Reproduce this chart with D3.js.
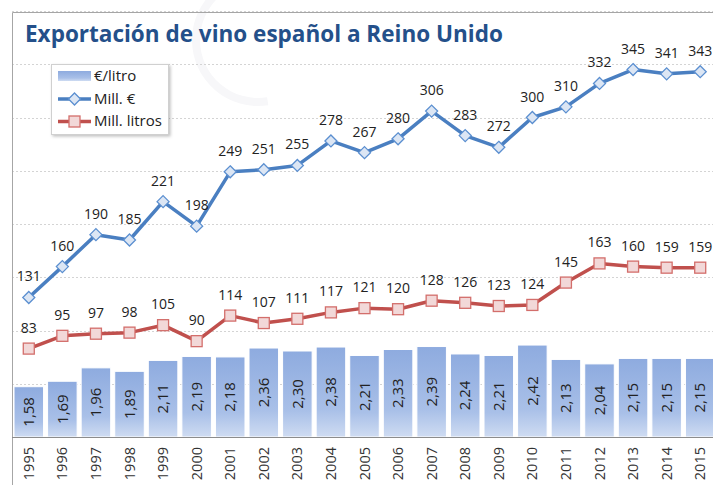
<!DOCTYPE html>
<html>
<head>
<meta charset="utf-8">
<script src="https://cdn.jsdelivr.net/npm/d3@7"></script>
<style>
  html, body { margin: 0; padding: 0; background: #fff; }
  svg { display: block; font-family: "Open Sans", "Noto Sans", sans-serif; }
</style>
</head>
<body>
<svg id="chart" width="713" height="485"></svg>
<script>
const titleText = "Exportación de vino español a Reino Unido";
const years = ["1995","1996","1997","1998","1999","2000","2001","2002","2003","2004","2005","2006","2007","2008","2009","2010","2011","2012","2013","2014","2015"];
const eurPerLitre = [1.58,1.69,1.96,1.89,2.11,2.19,2.18,2.36,2.30,2.38,2.21,2.33,2.39,2.24,2.21,2.42,2.13,2.04,2.15,2.15,2.15];
const millEuros = [131,160,190,185,221,198,249,251,255,278,267,280,306,283,272,300,310,332,345,341,343];
const millLitres = [83,95,97,98,105,90,114,107,111,117,121,120,128,126,123,124,145,163,160,159,159];
const seriesNames = ["€/litro", "Mill. €", "Mill. litros"];
const gridValues = [50,100,150,200,250,300,350,400];

const svg = d3.select("#chart");
const W = 713, H = 485;
const plot = {left: 12, right: 717, top: 11, bottom: 437};

// background watermark (very faint ring)
svg.append("path")
  .attr("d", d3.arc()({innerRadius: 58, outerRadius: 66, startAngle: Math.PI*0.95, endAngle: Math.PI*2.05}))
  .attr("transform", "translate(258,40)")
  .attr("fill", "#f7f7f9");

const x = d3.scaleBand().domain(years).range([plot.left, plot.right]).paddingInner(0.12).paddingOuter(0.06);
const yL = d3.scaleLinear().domain([0, 400]).range([plot.bottom, plot.top]);
const yB = d3.scaleLinear().domain([0.566, 9.155]).range([plot.bottom, plot.top]);

// gridlines
svg.append("g").selectAll("line").data(gridValues).join("line")
  .attr("x1", plot.left).attr("x2", W)
  .attr("y1", d => Math.round(yL(d)) + 0.5).attr("y2", d => Math.round(yL(d)) + 0.5)
  .attr("stroke", "#d4d4d4").attr("stroke-width", 1).attr("stroke-dasharray", "2,2");

// frame
svg.append("path").attr("d", `M12.5,${H} V12.5 H${W}`).attr("fill", "none").attr("stroke", "#a6a6a6").attr("stroke-width", 1);

// bar gradient
const defs = svg.append("defs");
const grad = defs.append("linearGradient").attr("id", "barGrad").attr("x1", 0).attr("y1", 0).attr("x2", 0).attr("y2", 1);
grad.append("stop").attr("offset", "0%").attr("stop-color", "#8eabdf");
grad.append("stop").attr("offset", "70%").attr("stop-color", "#a9c0e8");
grad.append("stop").attr("offset", "100%").attr("stop-color", "#cfdcf2");
const shadow = defs.append("filter").attr("id", "shadow").attr("x", "-10%").attr("y", "-10%").attr("width", "130%").attr("height", "130%");
shadow.append("feDropShadow").attr("dx", 1.5).attr("dy", 1.5).attr("stdDeviation", 1.5).attr("flood-color", "#000").attr("flood-opacity", 0.25);

// bars
const data = years.map((y, i) => ({year: y, b: eurPerLitre[i], e: millEuros[i], l: millLitres[i]}));
svg.append("g").selectAll("rect").data(data).join("rect")
  .attr("x", d => x(d.year)).attr("width", x.bandwidth())
  .attr("y", d => yB(d.b)).attr("height", d => plot.bottom - yB(d.b))
  .attr("fill", "url(#barGrad)").attr("stroke", "#ffffff").attr("stroke-width", 1);

// bar labels
svg.append("g").selectAll("text").data(data).join("text")
  .attr("transform", d => `translate(${x(d.year) + x.bandwidth()/2},${(yB(d.b) + plot.bottom)/2}) rotate(-90)`)
  .attr("text-anchor", "middle").attr("dy", "0.35em")
  .attr("font-size", 15).attr("fill", "#222")
  .text(d => d3.format(".2f")(d.b).replace(".", ","));

// axis line
svg.append("line").attr("x1", plot.left).attr("x2", W).attr("y1", plot.bottom + 0.5).attr("y2", plot.bottom + 0.5)
  .attr("stroke", "#8c8c8c").attr("stroke-width", 1.2);

// year labels
svg.append("g").selectAll("text").data(years).join("text")
  .attr("transform", d => `translate(${x(d) + x.bandwidth()/2},447) rotate(-90)`)
  .attr("text-anchor", "end").attr("dy", "0.35em")
  .attr("font-size", 14.5).attr("fill", "#333")
  .text(d => d);

const cx = d => x(d.year) + x.bandwidth()/2;

// lines
const lineE = d3.line().x(cx).y(d => yL(d.e));
const lineL = d3.line().x(cx).y(d => yL(d.l));
svg.append("path").datum(data).attr("d", lineE).attr("fill", "none").attr("stroke", "#4a7fc1").attr("stroke-width", 3.5).attr("stroke-linejoin", "round");
svg.append("path").datum(data).attr("d", lineL).attr("fill", "none").attr("stroke", "#c0504d").attr("stroke-width", 3.5).attr("stroke-linejoin", "round");

const diamond = s => `M0,${-s} L${s},0 L0,${s} L${-s},0 Z`;
svg.append("g").selectAll("path").data(data).join("path")
  .attr("d", diamond(6))
  .attr("transform", d => `translate(${cx(d)},${yL(d.e)})`)
  .attr("fill", "#dce6f4").attr("stroke", "#5b8fd0").attr("stroke-width", 1.3);
svg.append("g").selectAll("rect").data(data).join("rect")
  .attr("x", d => cx(d) - 5.5).attr("y", d => yL(d.l) - 5.5).attr("width", 11).attr("height", 11)
  .attr("fill", "#f2d8d8").attr("stroke", "#d36e6b").attr("stroke-width", 1.3);

// line labels
svg.append("g").selectAll("text").data(data).join("text")
  .attr("x", cx).attr("y", d => yL(d.e) - 16)
  .attr("text-anchor", "middle").attr("font-size", 14).attr("fill", "#222").text(d => d.e);
svg.append("g").selectAll("text").data(data).join("text")
  .attr("x", cx).attr("y", d => yL(d.l) - 16)
  .attr("text-anchor", "middle").attr("font-size", 14).attr("fill", "#222").text(d => d.l);

// title
const title = svg.append("text").attr("x", 25).attr("y", 42)
  .attr("font-size", 24).attr("font-weight", 700).attr("fill", "#24508a")
  .style("font-family", "'Open Sans', sans-serif")
  .text(titleText);
const tw = title.node().getComputedTextLength();
title.attr("font-size", 24 * 478 / tw);

// legend
const lg = svg.append("g");
lg.append("rect").attr("x", 51.5).attr("y", 64.5).attr("width", 117).attr("height", 70)
  .attr("fill", "#fff").attr("stroke", "#d0d0d0").attr("filter", "url(#shadow)");
lg.append("rect").attr("x", 58).attr("y", 71).attr("width", 33).attr("height", 10).attr("fill", "url(#barGrad)");
lg.append("line").attr("x1", 58).attr("x2", 91).attr("y1", 99).attr("y2", 99).attr("stroke", "#4a7fc1").attr("stroke-width", 3.5);
lg.append("path").attr("d", diamond(6)).attr("transform", "translate(74.5,99)").attr("fill", "#dce6f4").attr("stroke", "#5b8fd0").attr("stroke-width", 1.3);
lg.append("line").attr("x1", 58).attr("x2", 91).attr("y1", 121.5).attr("y2", 121.5).attr("stroke", "#c0504d").attr("stroke-width", 3.5);
lg.append("rect").attr("x", 69).attr("y", 116).attr("width", 11).attr("height", 11).attr("fill", "#f2d8d8").attr("stroke", "#d36e6b").attr("stroke-width", 1.3);
lg.selectAll("text.lt").data(seriesNames).join("text").attr("class", "lt")
  .attr("x", 94).attr("y", (d, i) => 76 + i * 22.5).attr("dy", "0.35em")
  .attr("font-size", 15).attr("fill", "#222").text(d => d);
</script>
</body>
</html>
